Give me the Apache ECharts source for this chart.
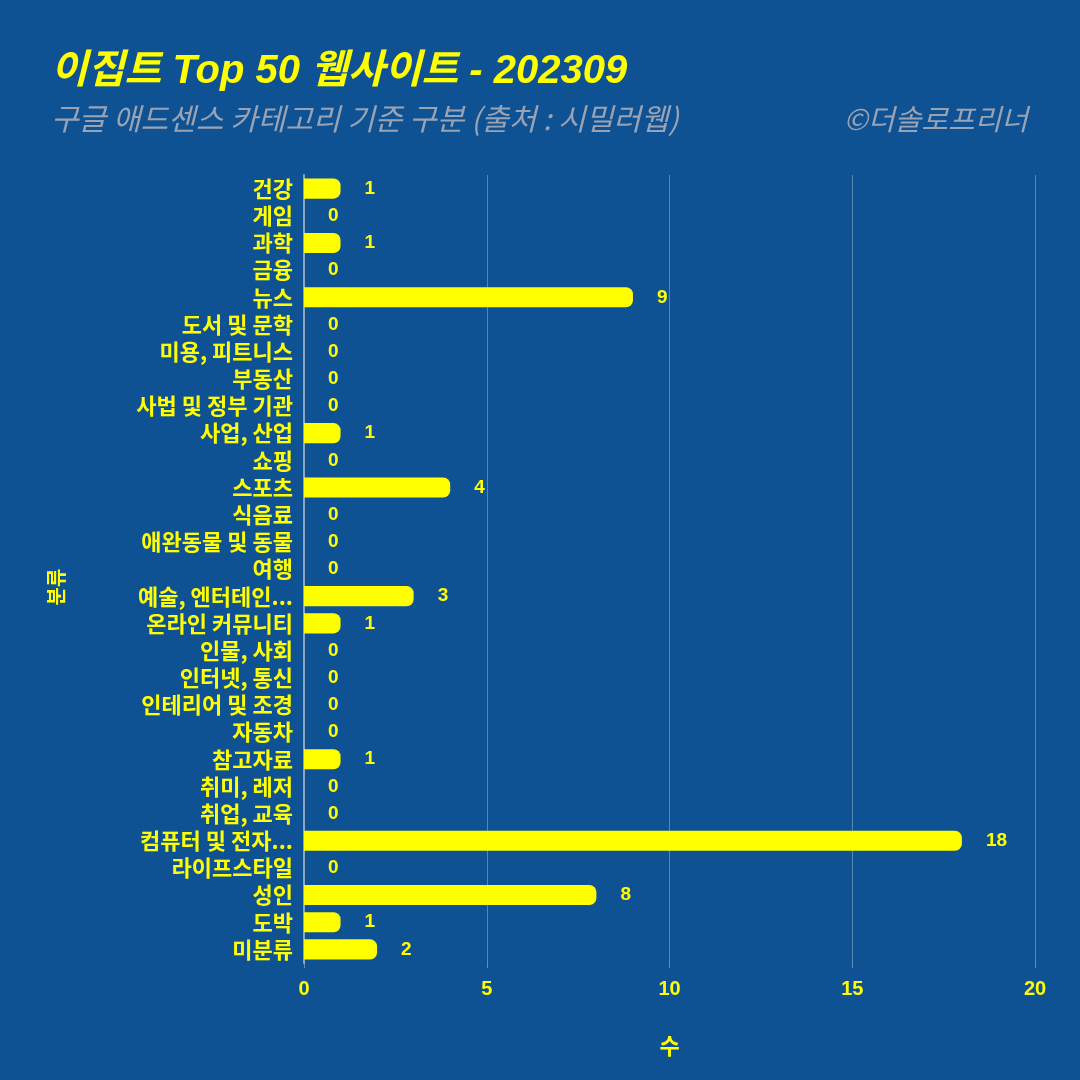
<!DOCTYPE html>
<html><head><meta charset="utf-8">
<script src="https://cdn.jsdelivr.net/npm/echarts@6/dist/echarts.min.js"></script>
<style>html,body{margin:0;padding:0;background:#0E5294;}#c{width:1080px;height:1080px;}</style>
</head><body><div id="c"></div>
<script>
const categories = ['건강','게임','과학','금융','뉴스','도서 및 문학','미용, 피트니스','부동산','사법 및 정부 기관','사업, 산업','쇼핑','스포츠','식음료','애완동물 및 동물','여행','예술, 엔터테인...','온라인 커뮤니티','인물, 사회','인터넷, 통신','인테리어 및 조경','자동차','참고자료','취미, 레저','취업, 교육','컴퓨터 및 전자...','라이프스타일','성인','도박','미분류'];
const values = [1,0,1,0,9,0,0,0,0,1,0,4,0,0,0,3,1,0,0,0,0,1,0,0,18,0,8,1,2];
const xTicks = [0,5,10,15,20];
const titleText = '이집트 Top 50 웹사이트 - 202309';
const subtitleText = '구글 애드센스 카테고리 기준 구분 (출처 : 시밀러웹)';
const creditText = '©더솔로프리너';

const chart = echarts.init(document.getElementById('c'));
const F = '"Noto Sans CJK KR", "Noto Sans", sans-serif';
const FL = '"Liberation Sans", "Noto Sans CJK KR", sans-serif';
chart.setOption({
  backgroundColor: '#0E5294',
  textStyle: {fontFamily: F},
  title: [
    {text: titleText, left: 46, top: 47, textStyle: {color: '#FFFF00', fontSize: 40, fontWeight: 'bold', fontStyle: 'italic', fontFamily: FL}},
    {text: subtitleText, left: 46, top: 99, textStyle: {color: '#9AA3B3', fontSize: 30, fontWeight: 'normal', fontStyle: 'italic', fontFamily: F}},
    {text: creditText, right: 47, top: 99, textStyle: {color: '#9AA3B3', fontSize: 29, fontWeight: 'normal', fontStyle: 'italic', fontFamily: F}}
  ],
  grid: {left: 304, right: 45, top: 175, bottom: 117, containLabel: false},
  xAxis: {
    type: 'value', min: 0, max: 20, interval: 5,
    name: '수', nameLocation: 'middle', nameGap: 72,
    nameTextStyle: {color: '#FFFF00', fontSize: 22, fontWeight: 'bold'},
    axisLine: {show: false},
    axisTick: {show: true, length: 5, lineStyle: {color: 'rgba(255,255,255,0.35)'}},
    axisLabel: {color: '#FFFF00', fontSize: 20, fontWeight: 'bold', margin: 16, fontFamily: FL,
      formatter: v => xTicks.includes(v) ? String(v) : ''},
    splitLine: {show: true, lineStyle: {color: 'rgba(255,255,255,0.3)', width: 1}}
  },
  yAxis: {
    type: 'category', data: categories, inverse: true,
    name: '분류', nameLocation: 'middle', nameGap: 238, nameRotate: 90,
    nameTextStyle: {color: '#FFFF00', fontSize: 20, fontWeight: 'bold', padding: [0, 36, 0, 0]},
    axisLine: {show: true, lineStyle: {color: '#8FA6BF', width: 2}},
    axisTick: {show: false},
    axisLabel: {color: '#FFFF00', fontSize: 22, fontWeight: 'bold', margin: 11, interval: 0, hideOverlap: false, lineHeight: 24},
    splitLine: {show: false}
  },
  series: [{
    type: 'bar', data: values, barCategoryGap: '26%',
    itemStyle: {color: '#FFFF00', borderRadius: [0, 7, 7, 0]},
    label: {show: true, position: 'right', distance: 24, color: '#FFFF00', fontSize: 19, fontWeight: 'bold', fontFamily: FL}
  }]
});
</script></body></html>
